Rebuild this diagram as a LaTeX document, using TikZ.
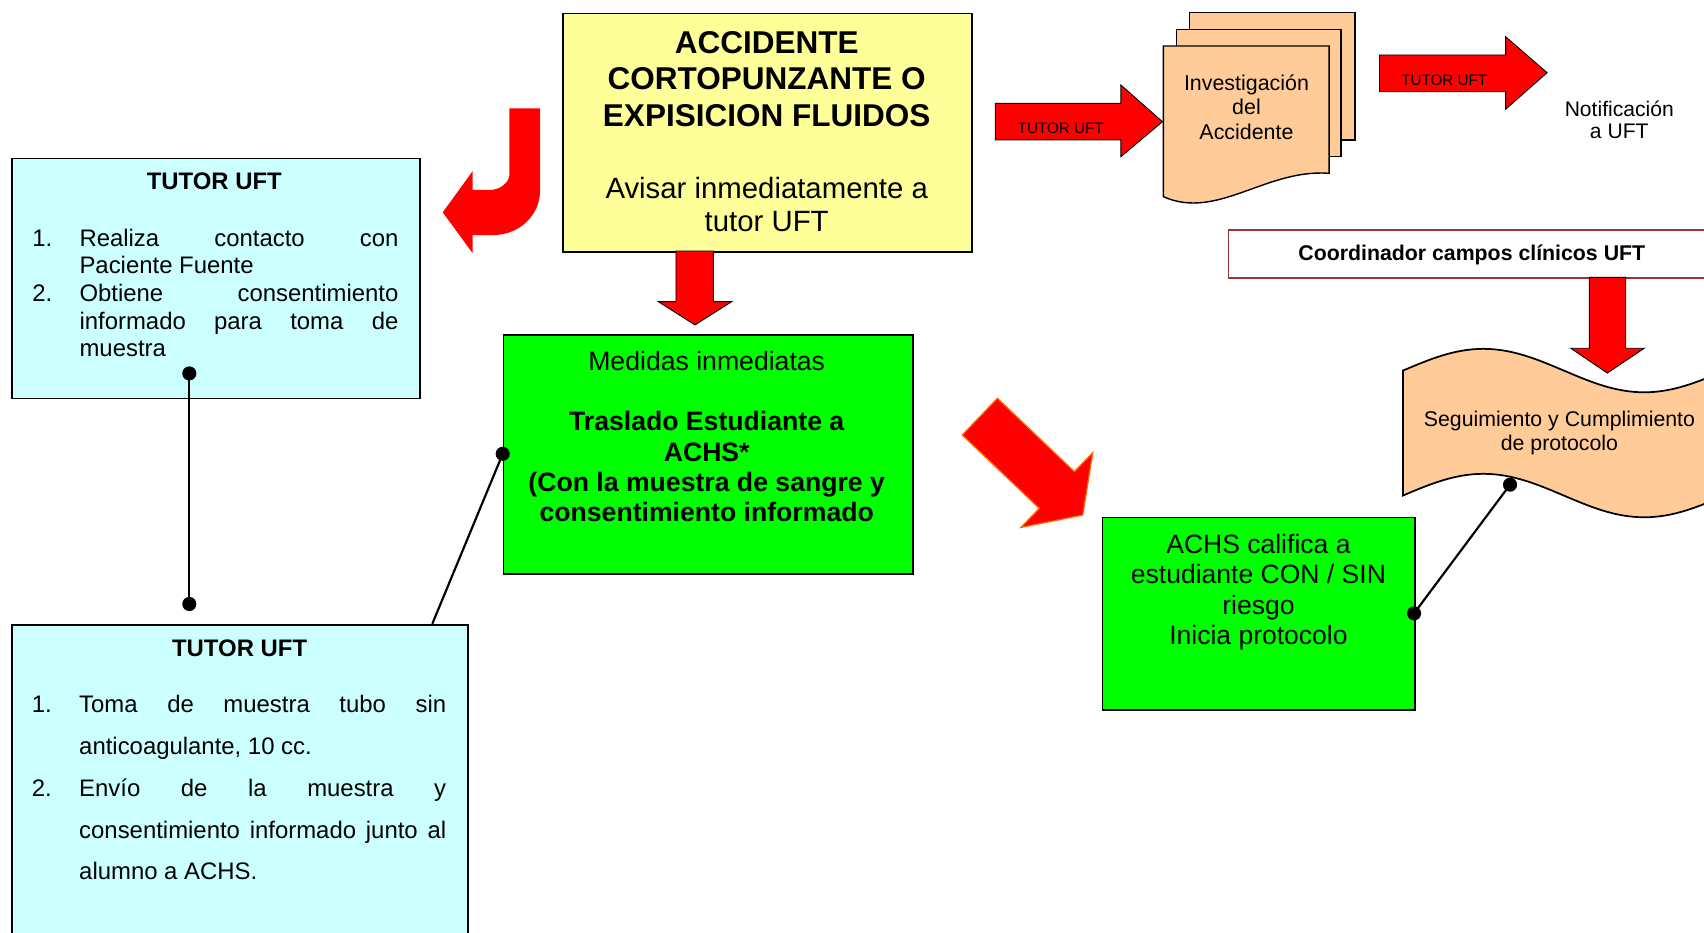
\documentclass[tikz,border=0pt]{standalone}
\usepackage{fontspec}
\setmainfont{Liberation Sans}
\definecolor{cyanbox}{HTML}{CCFFFF}
\definecolor{yellowbox}{HTML}{FFFF99}
\definecolor{greenbox}{HTML}{00FF00}
\definecolor{peach}{HTML}{FFCC99}
\definecolor{arrowred}{HTML}{FF0000}
\definecolor{orangeline}{HTML}{FF6600}
\definecolor{cborder}{HTML}{993333}
\begin{document}
\begin{tikzpicture}[x=1pt,y=-1pt,
  box/.style={draw=black, line width=1.6pt, inner sep=0pt, anchor=north west},
  txt/.style={inner sep=0pt, anchor=base},
  txtl/.style={inner sep=0pt, anchor=base west},
  dot/.style={circle, fill=black, inner sep=0pt, minimum size=13pt},
  conn/.style={draw=black, line width=2pt},
  blockarrow/.style={fill=arrowred, draw=black, line width=0.8pt, line join=miter},
  docpage/.style={fill=peach, draw=black, line width=1.3pt, line join=miter}]
\clip (0,0) rectangle (1568,858);

% ---------- boxes ----------
\node[box, fill=cyanbox, minimum width=376pt, minimum height=221pt] (tutor1) at (10,145) {};
\node[box, fill=yellowbox, minimum width=376.5pt, minimum height=219.3pt] (accidente) at (517,11.7) {};
\node[box, fill=greenbox, minimum width=376.4pt, minimum height=220.2pt] (medidas) at (462.6,307.4) {};
\node[box, fill=cyanbox, minimum width=420pt, minimum height=320pt] (tutor2) at (10,574) {};
\node[box, fill=greenbox, minimum width=287.4pt, minimum height=177.2pt] (achs) at (1013.8,475.5) {};
\node[box, draw=cborder, line width=1.3pt, fill=white, minimum width=448pt, minimum height=44.2pt] (coord) at (1129.7,211) {};

% ---------- texts ----------
\node[txt] (tutor1title) at (197.2,174.8) {\bfseries\fontsize{22}{25.6}\selectfont TUTOR UFT};
\node[txtl] (tutor1items) at (29.6,226.4) {\parbox[t]{337pt}{\fontsize{22}{25.5}\selectfont
\makebox[43.4pt][l]{1.}\makebox[293.4pt][s]{Realiza contacto con}\\
\hspace*{43.4pt}Paciente Fuente\\
\makebox[43.4pt][l]{2.}\makebox[293.4pt][s]{Obtiene consentimiento}\\
\hspace*{43.4pt}\makebox[293.4pt][s]{informado para toma de}\\
\hspace*{43.4pt}muestra}};

\node[txt] (acctitle) at (705.5,49.1) {\parbox[t]{376pt}{\centering\bfseries\fontsize{29}{33.7}\selectfont ACCIDENTE\\CORTOPUNZANTE O\\EXPISICION FLUIDOS}};
\node[txt] (accbody) at (705.5,182.5) {\parbox[t]{376pt}{\centering\fontsize{27}{30.7}\selectfont Avisar inmediatamente a\\tutor UFT}};

\node[txt] (medtitle) at (650.3,340.5) {\fontsize{24.5}{27.8}\selectfont Medidas inmediatas};
\node[txt] (medbody) at (650.3,396.6) {\parbox[t]{376pt}{\centering\bfseries\fontsize{24.5}{27.8}\selectfont Traslado Estudiante a\\ACHS*\\(Con la muestra de sangre y\\consentimiento informado}};

\node[txt] (tutor2title) at (220.5,603.7) {\bfseries\fontsize{22}{25.6}\selectfont TUTOR UFT};
\node[txtl] (tutor2items) at (29.1,655.7) {\parbox[t]{382pt}{\fontsize{22}{38.5}\selectfont
\makebox[43.6pt][l]{1.}\makebox[337.7pt][s]{Toma de muestra tubo sin}\\
\hspace*{43.6pt}anticoagulante, 10 cc.\\
\makebox[43.6pt][l]{2.}\makebox[337.7pt][s]{Env\'io de la muestra y}\\
\hspace*{43.6pt}\makebox[337.7pt][s]{consentimiento informado junto al}\\
\hspace*{43.6pt}alumno a ACHS.}};

\node[txt] (achstext) at (1158,509.2) {\parbox[t]{287pt}{\centering\fontsize{24.4}{28.1}\selectfont ACHS califica a\\estudiante CON / SIN\\riesgo\\Inicia protocolo}};

\node[txt] (coordtext) at (1354.3,239.9) {\bfseries\fontsize{19.6}{22}\selectfont Coordinador campos cl\'inicos UFT};

% ---------- documents ----------
\draw[docpage] (1094.4,11.7) rectangle (1246.9,128.8);
\draw[docpage] (1082.8,27) rectangle (1234,144.2);
\draw[docpage] (1070.5,42.3) -- (1223,42.3) -- (1223,159.5) .. controls (1165,155) and (1120,203) .. (1070.5,181) -- cycle;
\node[txt] (doctext) at (1147,83.4) {\parbox[t]{150pt}{\centering\fontsize{19.7}{22.4}\selectfont Investigaci\'on\\del\\Accidente}};

\node[txt] (notif) at (1490,107.4) {\parbox[t]{150pt}{\centering\fontsize{19.4}{19.9}\selectfont Notificaci\'on\\a UFT}};

% ---------- wave (tape) ----------
\draw[fill=peach, draw=black, line width=1.6pt] (1291,341) sin (1365,321) cos (1439,341) sin (1513,361) cos (1587,341)
  -- (1587,456) sin (1513,476) cos (1439,456) sin (1365,436) cos (1291,456) -- cycle;
\node[txt] (wavetext) at (1435,392.6) {\parbox[t]{290pt}{\centering\fontsize{19.6}{21.5}\selectfont Seguimiento y Cumplimiento\\de protocolo}};

% ---------- block arrows ----------
\draw[blockarrow] (622,231) -- (656.4,231) -- (656.4,277.6) -- (673.3,277.6) -- (639.5,299) -- (605.8,277.6) -- (622,277.6) -- cycle;
\draw[blockarrow] (1462.5,255.2) -- (1496,255.2) -- (1496,320.5) -- (1513,320.5) -- (1479,343.3) -- (1445.4,320.5) -- (1462.5,320.5) -- cycle;
\draw[blockarrow] (915.8,95.1) -- (1031.4,95.1) -- (1031.4,78.2) -- (1069.7,112) -- (1031.4,144.2) -- (1031.4,128.8) -- (915.8,128.8) -- cycle;
\draw[blockarrow] (1269.4,50.6) -- (1385.4,50.6) -- (1385.4,33.7) -- (1423.6,66.9) -- (1385.4,100.6) -- (1385.4,84.4) -- (1269.4,84.4) -- cycle;
\node[txt] (arrowlabA) at (976,122.7) {\fontsize{14}{16}\selectfont TUTOR UFT};
\node[txt] (arrowlabB) at (1329,79.1) {\fontsize{14}{16}\selectfont TUTOR UFT};

\draw[fill=arrowred, draw=orangeline, line width=1.2pt, line join=miter] (917.8,366.5) -- (988.6,434) -- (1005.5,416.6) -- (996.3,473.9) -- (939.5,485.3) -- (956.4,467.8) -- (885.5,400.3) -- cycle;

\fill[arrowred] (468.7,99.7) -- (496.9,99.7) -- (496.9,176) .. controls (496.9,198) and (477.7,216.3) .. (454,216.3) -- (435,216.3) -- (435,233.1) -- (407.4,195.4) -- (435,157.4) -- (435,174.8) -- (451,174.8) .. controls (460.8,174.8) and (468.7,167.2) .. (468.7,161) -- cycle;

% ---------- connectors ----------
\node[dot] (d1) at (174.2,343.6) {};
\node[dot] (d2) at (174.2,555.8) {};
\draw[conn] (d1.center) -- (d2.center);
\node[dot] (d3) at (462.6,417.6) {};
\coordinate (c4) at (397.8,574);
\draw[conn] (d3.center) -- (c4);
\node[dot] (d5) at (1301.2,564.4) {};
\node[dot] (d6) at (1389.5,446) {};
\draw[conn] (d5.center) -- (d6.center);
\end{tikzpicture}
\end{document}
